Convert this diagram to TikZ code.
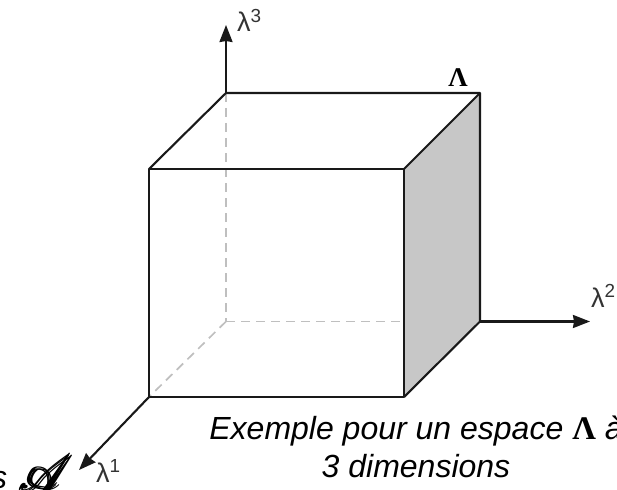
\documentclass[tikz,border=0pt]{standalone}
\usepackage{fontspec}
\usepackage{amsmath,mathrsfs}
\setmainfont{Liberation Sans}
\newfontfamily\lambdafont{Liberation Serif}
\usepackage{tikz}
\usetikzlibrary{arrows.meta,positioning}

\begin{document}
\begin{tikzpicture}[
    x=1pt, y=-1pt,
    edge/.style={draw=black!90, line width=2.1pt, line join=round},
    hidden/.style={draw=black!25, line width=1.7pt, dash pattern=on 9pt off 6pt},
    arr/.style={-{Stealth[length=17pt,width=13pt,inset=1pt]}, black!90, line width=2.1pt},
    axislabel/.style={font=\fontsize{27}{27}\selectfont, text=black!80, inner sep=0pt, anchor=base west},
    caption/.style={font=\fontsize{32}{38}\selectfont\itshape, align=center, inner sep=0pt}
]
\useasboundingbox (0,0) rectangle (617,489);
\clip (0,0) rectangle (617,489);

%% Corners
\coordinate (ftl) at (149,169);
\coordinate (ftr) at (404,169);
\coordinate (fbl) at (149,397);
\coordinate (fbr) at (404,397);
\coordinate (btl) at (226,93);
\coordinate (btr) at (480,93);
\coordinate (bbl) at (226,321.5);
\coordinate (bbr) at (480,321.5);

%% Axis ends
\coordinate (end1) at (79,470);
\coordinate (end2) at (590,321.5);
\coordinate (end3) at (226,25);

%% Hidden edges
\draw[hidden] (btl) -- (bbl);
\draw[hidden] (bbl) -- (bbr);
\draw[hidden] (bbl) -- (fbl);

%% Shaded side
\fill[black!22] (ftr) -- (btr) -- (bbr) -- (fbr) -- cycle;

%% Visible edges
\draw[edge] (ftl) rectangle (fbr);
\draw[edge] (ftl) -- (btl) -- (btr) -- (bbr) -- (fbr);
\draw[edge] (ftr) -- (btr);

%% Axes
\draw[arr] (btl) -- (end3);
\draw[arr] (bbr) -- (end2);
\draw[arr] (fbl) -- (end1);

%% Labels
\node[axislabel] (l3) at (237,32) {λ\textsuperscript{3}};
\node[axislabel] (l2) at (591,307) {λ\textsuperscript{2}};
\node[axislabel] (l1) at (96,482) {λ\textsuperscript{1}};
\node[inner sep=0pt, anchor=base, font=\fontsize{27}{27}\selectfont\lambdafont\bfseries] (cap) at (458,87) {Λ};

%% Caption
\node[caption] (legend) at (416,447)
  {Exemple pour un espace {\fontsize{33}{38}\selectfont\lambdafont\bfseries\upshape Λ} à\\3 dimensions};
\node[inner sep=0pt, anchor=base west, font=\fontsize{32}{32}\selectfont\itshape] (s) at (-9,488) {s};
\node[inner sep=0pt, anchor=base west, scale=5.2] (a) at (19,492) {$\pmb{\mathscr{A}}$};
\end{tikzpicture}
\end{document}
